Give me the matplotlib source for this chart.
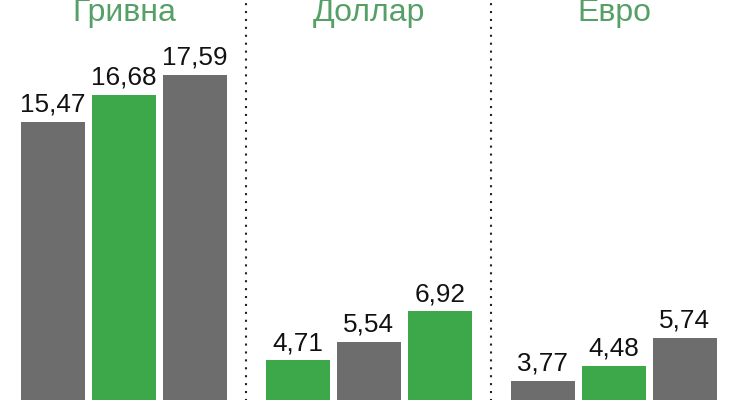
import matplotlib
matplotlib.use("Agg")
import matplotlib.pyplot as plt

plt.rcParams['font.family'] = ['Liberation Sans', 'DejaVu Sans']

groups = ["Гривна", "Доллар", "Евро"]
values = [[15.47, 16.68, 17.59],
          [4.71, 5.54, 6.92],
          [3.77, 4.48, 5.74]]
labels = [["15,47", "16,68", "17,59"],
          ["4,71", "5,54", "6,92"],
          ["3,77", "4,48", "5,74"]]

GRAY = "#6d6d6d"
GREEN = "#3ca84a"
colors = [[GRAY, GREEN, GRAY],
          [GREEN, GRAY, GREEN],
          [GRAY, GREEN, GRAY]]

fig = plt.figure(figsize=(7.4, 4.0), dpi=100)
ax = fig.add_axes([0, 0, 1, 1])
ax.set_axis_off()

gap = 3.45
width = 0.9
for gi, (g, vals) in enumerate(zip(groups, values)):
    c = gi * gap
    xs = [c - 1, c, c + 1]
    ax.bar(xs, vals, width=width, color=colors[gi], bottom=0)
    for x, v, lab in zip(xs, vals, labels[gi]):
        ax.annotate(lab, (x, v), xytext=(0, 7.5), textcoords="offset points",
                    ha="center", va="baseline", fontsize=18.8, color="#111111")
    ax.text(c, 20.0, g, ha="center", va="baseline", fontsize=23,
            color="#56a067")

for gi in range(len(groups) - 1):
    xm = gi * gap + gap / 2
    ax.plot([xm, xm], [0, 25], color="#222222", lw=1.5,
            linestyle=(0, (1, 2.8)))

ax.set_xlim(-1.746, 8.676)
ax.set_ylim(2.93, 20.95)

fig.savefig("out.png", dpi=100)
